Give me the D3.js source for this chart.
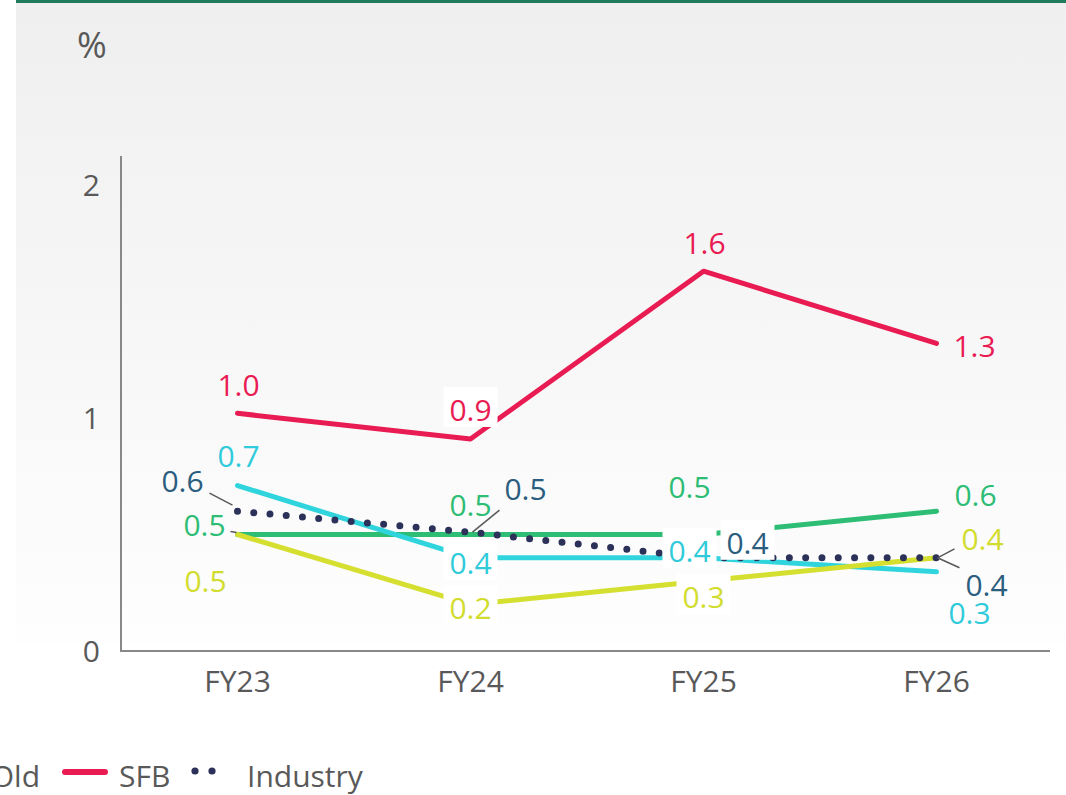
<!DOCTYPE html>
<html>
  <head>
    <meta charset="utf-8">
    <script src="https://d3js.org/d3.v7.min.js"></script>
    <style>
      body { margin: 0; background: #fff; }
      svg { display: block; font-family: "Open Sans", sans-serif; }
    </style>
  </head>
  <body>
    <div class="chart"></div>
    <script>

    // values (%)
    var years = ["FY23", "FY24", "FY25", "FY26"];
    var psb = [0.50, 0.50, 0.50, 0.60];
    var pvtNew = [0.71, 0.40, 0.40, 0.34];
    var pvtOld = [0.50, 0.20, 0.30, 0.40];
    var sfb = [1.02, 0.91, 1.63, 1.32];
    var industry = [0.60, 0.51, 0.40, 0.40];
    var yTicks = [0, 1, 2];

    var series = [
      {name: "PSB", values: psb, color: "#2dbd74", label: "#2dbd74"},
      {name: "Pvt New", values: pvtNew, color: "#2fd4dc", label: "#2fcbdb"},
      {name: "Pvt Old", values: pvtOld, color: "#d4df30", label: "#d2dc2e"},
      {name: "SFB", values: sfb, color: "#e81b52", label: "#e81b52"},
      {name: "Industry", values: industry, color: "#2b3158", label: "#2b5d7e", dotted: true}
    ];

    // label placement, offsets from each point (layout only)
    var labelPos = {
      "PSB":      [{dx: -33, dy: -10, lead: [-7, -3, -1, -2]}, {dx: 0, dy: -30}, {dx: -14, dy: -48}, {dx: 39, dy: -16}],
      "Pvt New":  [{dx: 1, dy: -30}, {dx: 0, dy: 5, box: true}, {dx: -14, dy: -7, box: true}, {dx: 33, dy: 41}],
      "Pvt Old":  [{dx: -32, dy: 46}, {dx: 0, dy: 4, box: true}, {dx: 0, dy: 16, box: true}, {dx: 46, dy: -19, lead: [1, 0, 18, -9]}],
      "SFB":      [{dx: 1, dy: -28}, {dx: 0, dy: -29, box: true}, {dx: 1, dy: -28}, {dx: 38, dy: 3}],
      "Industry": [{dx: -55, dy: -30, lead: [-28, -18, -5, -6]}, {dx: 55, dy: -43, lead: [2, 0, 29, -22]}, {dx: 44, dy: -15, box: true}, {dx: 50, dy: 27, lead: [1, 0, 23, 10]}]
    };

    var W = 1066, H = 795;
    var svg = d3.select(".chart").append("svg").attr("width", W).attr("height", H);

    var defs = svg.append("defs");
    var grad = defs.append("linearGradient").attr("id", "bg").attr("x1", 0).attr("y1", 0).attr("x2", 0).attr("y2", 1);
    grad.append("stop").attr("offset", "0%").attr("stop-color", "#efefef");
    grad.append("stop").attr("offset", "100%").attr("stop-color", "#fefefe");

    svg.append("rect").attr("x", 16).attr("y", 0).attr("width", W - 16).attr("height", 643).attr("fill", "url(#bg)");
    svg.append("rect").attr("x", 16).attr("y", 0).attr("width", W - 16).attr("height", 3).attr("fill", "#1e7a59");

    svg.append("text").attr("x", 92).attr("y", 58).attr("text-anchor", "middle")
      .attr("font-size", "36px").attr("fill", "#595959").text("%");

    var x = d3.scaleBand().domain(years).range([121, 1053]).padding(0);
    var y = d3.scaleLinear().domain([0, 2]).range([651, 185]);
    var cx = function(d, i) { return x(years[i]) + x.bandwidth() / 2; };

    // axes
    var yAxis = svg.append("g").attr("transform", "translate(121,0)")
      .call(d3.axisLeft(y).tickValues(yTicks).tickFormat(d3.format("d")).tickSize(0).tickPadding(21));
    yAxis.select(".domain").remove();
    yAxis.selectAll("text").attr("font-size", "30px").attr("fill", "#595959").attr("font-family", "Open Sans").attr("dy", "0.36em");

    var xAxis = svg.append("g").attr("transform", "translate(0,651)")
      .call(d3.axisBottom(x).tickSize(0).tickPadding(20));
    xAxis.select(".domain").remove();
    xAxis.selectAll("text").attr("font-size", "30px").attr("fill", "#595959").attr("font-family", "Open Sans");

    svg.append("line").attr("x1", 121).attr("x2", 121).attr("y1", y(2.125)).attr("y2", y(0))
      .attr("stroke", "#888").attr("stroke-width", 2);
    svg.append("line").attr("x1", 120).attr("x2", 1050).attr("y1", y(0)).attr("y2", y(0))
      .attr("stroke", "#888").attr("stroke-width", 2);

    // lines
    var line = d3.line().x(cx).y(function(d) { return y(d); });
    series.forEach(function(s) {
      var p = svg.append("path").datum(s.values).attr("d", line).attr("fill", "none")
        .attr("stroke", s.color).attr("stroke-linecap", "round").attr("stroke-linejoin", "round");
      if (s.dotted) p.attr("stroke-width", 7).attr("stroke-dasharray", "0 16.3");
      else p.attr("stroke-width", 5);
    });

    // data labels
    var fmt = d3.format(".1f");
    series.forEach(function(s) {
      s.values.forEach(function(v, i) {
        var lp = labelPos[s.name][i];
        var px = cx(v, i), py = y(v);
        var tx = px + lp.dx, ty = py + lp.dy;
        if (lp.lead) {
          svg.append("line").attr("x1", px + lp.lead[0]).attr("y1", py + lp.lead[1])
            .attr("x2", px + lp.lead[2]).attr("y2", py + lp.lead[3])
            .attr("stroke", "#595959").attr("stroke-width", 1.5);
        }
        if (lp.box) {
          svg.append("rect").attr("x", tx - 27).attr("y", ty - 23).attr("width", 54).attr("height", 40).attr("fill", "#fff");
        }
        svg.append("text").attr("x", tx).attr("y", ty + 11).attr("text-anchor", "middle")
          .attr("font-size", "30px").attr("fill", s.label).text(fmt(v));
      });
    });

    // legend: runs off the left edge like the original.
    // SFB and Industry sit at fixed spots, earlier items are packed leftwards so "Pvt Old" ends at x=40
    var lg = svg.append("g").attr("transform", "translate(0,787)");
    function legendItem(s, lx) {
      var g = lg.append("g").attr("transform", "translate(" + lx + ",0)");
      if (s.dotted) {
        g.selectAll("circle").data([0, 17]).enter().append("circle")
          .attr("cx", function(d) { return d; }).attr("cy", -16).attr("r", 3.6).attr("fill", s.color);
        return g.append("text").attr("x", 52).attr("y", 0).attr("font-size", "30px").attr("fill", "#595959").text(s.name);
      }
      g.append("line").attr("x1", 2).attr("x2", 42).attr("y1", -15).attr("y2", -15)
        .attr("stroke", s.color).attr("stroke-width", 6).attr("stroke-linecap", "round");
      return g.append("text").attr("x", 56).attr("y", 0).attr("font-size", "30px").attr("fill", "#595959").text(s.name);
    }
    legendItem(series[3], 63);
    legendItem(series[4], 195);
    var right = 40;
    for (var k = 2; k >= 0; k--) {
      var t = legendItem(series[k], 0);
      var w = t.node().getComputedTextLength();
      var lx = right - 56 - w;
      d3.select(t.node().parentNode).attr("transform", "translate(" + lx + ",0)");
      right = lx - 22;
    }

    </script>
  </body>
</html>
